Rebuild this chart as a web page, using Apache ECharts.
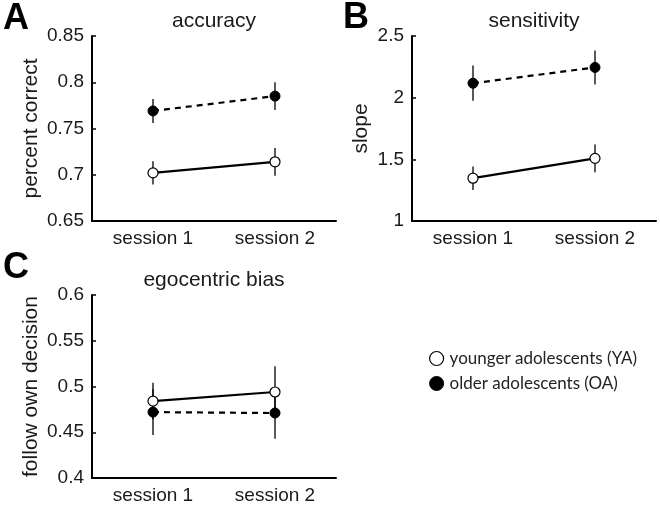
<!DOCTYPE html>
<html>
<head>
<meta charset="utf-8">
<script src="https://cdn.jsdelivr.net/npm/echarts@6/dist/echarts.min.js"></script>
<style>html,body{margin:0;padding:0;background:#fff}#c{width:660px;height:505px}</style>
</head>
<body>
<div id="c"></div>
<script>
// ---- data ----
const sessions = ['session 1', 'session 2'];
const groupNames = ['younger adolescents (YA)', 'older adolescents (OA)'];

const accYA = [0.702, 0.714];
const accYAerr = [0.0125, 0.015];
const accOA = [0.769, 0.785];
const accOAerr = [0.013, 0.015];

const slopeYA = [1.347, 1.508];
const slopeYAerr = [0.095, 0.112];
const slopeOA = [2.117, 2.245];
const slopeOAerr = [0.143, 0.138];

const egoYA = [0.484, 0.494];
const egoYAerr = [0.020, 0.028];
const egoOA = [0.472, 0.471];
const egoOAerr = [0.025, 0.028];

const accTicks = [0.65, 0.7, 0.75, 0.8, 0.85];
const slopeTicks = [1, 1.5, 2, 2.5];
const egoTicks = [0.4, 0.45, 0.5, 0.55, 0.6];

const panelTitles = ['accuracy', 'sensitivity', 'egocentric bias'];
const yNames = ['percent correct', 'slope', 'follow own decision'];
const panelLetters = ['A', 'B', 'C'];

// ---- chart ----
const FONT = '"Liberation Sans", Arial, sans-serif';
const grids = [
  {left: 92, top: 36, width: 244, height: 185},
  {left: 412, top: 36, width: 244, height: 185},
  {left: 92, top: 295, width: 244, height: 185}
];
const panels = [
  {ya: accYA, yaE: accYAerr, oa: accOA, oaE: accOAerr, ticks: accTicks, gap: 50},
  {ya: slopeYA, yaE: slopeYAerr, oa: slopeOA, oaE: slopeOAerr, ticks: slopeTicks, gap: 40},
  {ya: egoYA, yaE: egoYAerr, oa: egoOA, oaE: egoOAerr, ticks: egoTicks, gap: 50}
];

const xAxes = [], yAxes = [], series = [], titles = [], graphics = [];
panels.forEach((p, i) => {
  const g = grids[i];
  xAxes.push({
    type: 'category', gridIndex: i, data: sessions, boundaryGap: true,
    axisLine: {lineStyle: {color: '#000', width: 2}},
    axisTick: {alignWithLabel: true, inside: true, length: 5, lineStyle: {color: '#000', width: 1.5}},
    axisLabel: {color: '#1a1a1a', fontSize: 19, fontFamily: FONT, margin: 8},
    splitLine: {show: false}
  });
  const t = p.ticks;
  yAxes.push({
    type: 'value', gridIndex: i, min: t[0], max: t[t.length - 1], interval: t[1] - t[0],
    name: yNames[i], nameLocation: 'middle', nameGap: p.gap,
    nameTextStyle: {color: '#1a1a1a', fontSize: 21, fontFamily: FONT},
    axisLine: {show: true, lineStyle: {color: '#000', width: 2}},
    axisTick: {show: true, inside: true, length: 4, lineStyle: {color: '#000', width: 1.5}},
    axisLabel: {color: '#1a1a1a', fontSize: 19, fontFamily: FONT, margin: 8,
      formatter: v => String(parseFloat(v.toFixed(4)))},
    splitLine: {show: false}
  });
  const errData = (v, e) => v.map((val, k) => [k, val - e[k], val + e[k]]);
  [[p.ya, p.yaE], [p.oa, p.oaE]].forEach((arr, j) => {
    series.push({
      type: 'custom', xAxisIndex: i, yAxisIndex: i, z: 1, silent: true,
      data: errData(arr[0], arr[1]),
      encode: {x: 0, y: [1, 2]},
      renderItem: (params, api) => {
        const x = api.value(0);
        const lo = api.coord([x, api.value(1)]);
        const hi = api.coord([x, api.value(2)]);
        return {type: 'line', shape: {x1: lo[0], y1: lo[1], x2: hi[0], y2: hi[1]},
          style: {stroke: '#000', lineWidth: 1.3}};
      }
    });
  });
  series.push({
    name: groupNames[0], type: 'line', xAxisIndex: i, yAxisIndex: i, z: 3,
    data: p.ya, symbol: 'circle', symbolSize: 10,
    lineStyle: {color: '#000', width: 2.2, type: 'solid'},
    itemStyle: {color: '#fff', borderColor: '#000', borderWidth: 1.2},
    emphasis: {disabled: true}
  });
  series.push({
    name: groupNames[1], type: 'line', xAxisIndex: i, yAxisIndex: i, z: 3,
    data: p.oa, symbol: 'circle', symbolSize: 10,
    lineStyle: {color: '#000', width: 2.2, type: [6, 5]},
    itemStyle: {color: '#000', borderColor: '#000', borderWidth: 1},
    emphasis: {disabled: true}
  });
  titles.push({
    text: panelTitles[i], left: g.left + g.width / 2, textAlign: 'center',
    top: g.top - 25, padding: 0,
    textStyle: {color: '#1a1a1a', fontSize: 21, fontWeight: 'normal', fontFamily: FONT}
  });
});

const letterPos = [[3, 1], [343, 0], [3, 250]];
letterPos.forEach((pos, i) => {
  graphics.push({type: 'text', left: pos[0], top: pos[1],
    style: {text: panelLetters[i], fill: '#000', font: 'bold 36px ' + FONT}});
});

const chart = echarts.init(document.getElementById('c'), null, {renderer: 'canvas'});
chart.setOption({
  animation: false,
  backgroundColor: '#fff',
  title: titles,
  grid: grids,
  xAxis: xAxes,
  yAxis: yAxes,
  legend: {
    orient: 'vertical', left: 424, top: 345, itemGap: 8,
    itemWidth: 14, itemHeight: 14, icon: 'circle', selectedMode: false,
    textStyle: {color: '#222', fontSize: 17, fontFamily: 'Lato, "Liberation Sans", sans-serif', padding: [0, 0, 0, 1]},
    data: [
      {name: groupNames[0], itemStyle: {color: '#fff', borderColor: '#000', borderWidth: 1.2}},
      {name: groupNames[1], itemStyle: {color: '#000', borderColor: '#000', borderWidth: 1}}
    ]
  },
  graphic: graphics,
  series: series
});
</script>
</body>
</html>
